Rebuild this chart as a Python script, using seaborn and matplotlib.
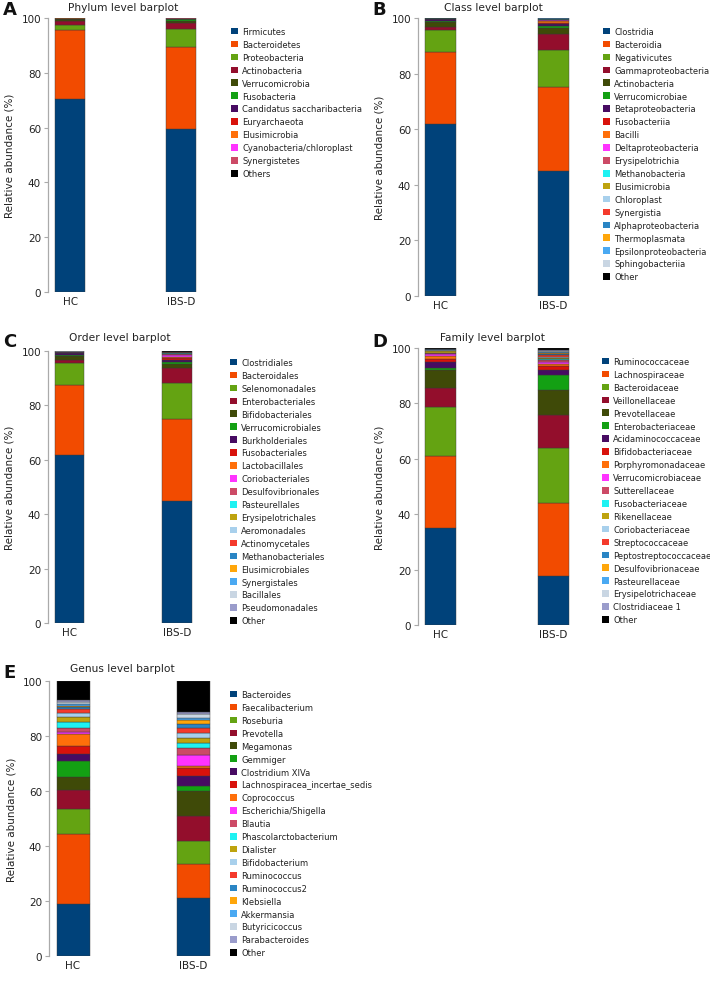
import numpy as np
import pandas as pd
import matplotlib
matplotlib.use("Agg")
import matplotlib.pyplot as plt
import seaborn as sns
from matplotlib.patches import Patch

# ------------------------------------------------------------
# Data (relative abundance, %)
# ------------------------------------------------------------
groups = ["HC", "IBS-D"]

phylum_names = ["Firmicutes", "Bacteroidetes", "Proteobacteria", "Actinobacteria",
                "Verrucomicrobia", "Fusobacteria", "Candidatus saccharibacteria",
                "Euryarchaeota", "Elusimicrobia", "Cyanobacteria/chloroplast",
                "Synergistetes", "Others"]
phylum_hc = [70.5, 25.3, 1.5, 1.6, 0.7, 0.05, 0.05, 0.1, 0.02, 0.03, 0.05, 0.1]
phylum_ibs = [59.6, 29.8, 6.7, 2.2, 0.6, 0.6, 0.1, 0.1, 0.05, 0.05, 0.05, 0.15]

class_names = ["Clostridia", "Bacteroidia", "Negativicutes", "Gammaproteobacteria",
               "Actinobacteria", "Verrucomicrobiae", "Betaproteobacteria", "Fusobacteriia",
               "Bacilli", "Deltaproteobacteria", "Erysipelotrichia", "Methanobacteria",
               "Elusimicrobia", "Chloroplast", "Synergistia", "Alphaproteobacteria",
               "Thermoplasmata", "Epsilonproteobacteria", "Sphingobacteriia", "Other"]
class_hc = [61.9, 25.8, 8.1, 1.0, 1.9, 0.3, 0.5, 0.05, 0.1, 0.05, 0.1, 0.03,
            0.02, 0.02, 0.02, 0.02, 0.01, 0.01, 0.01, 0.06]
class_ibs = [45.1, 30.0, 13.5, 5.8, 2.0, 0.7, 0.7, 0.5, 0.7, 0.2, 0.2, 0.1,
             0.05, 0.05, 0.1, 0.05, 0.05, 0.05, 0.05, 0.1]

order_names = ["Clostridiales", "Bacteroidales", "Selenomonadales", "Enterobacteriales",
               "Bifidobacteriales", "Verrucomicrobiales", "Burkholderiales", "Fusobacteriales",
               "Lactobacillales", "Coriobacteriales", "Desulfovibrionales", "Pasteurellales",
               "Erysipelotrichales", "Aeromonadales", "Actinomycetales", "Methanobacteriales",
               "Elusimicrobiales", "Synergistales", "Bacillales", "Pseudomonadales", "Other"]
order_hc = [61.7, 25.7, 8.3, 0.9, 1.6, 0.3, 0.6, 0.05, 0.1, 0.2, 0.1, 0.05,
            0.1, 0.02, 0.02, 0.03, 0.02, 0.02, 0.02, 0.02, 0.15]
order_ibs = [45.0, 29.9, 13.5, 5.5, 1.2, 0.9, 0.7, 0.6, 0.6, 0.6, 0.3, 0.3,
             0.2, 0.1, 0.1, 0.05, 0.05, 0.05, 0.1, 0.05, 0.2]

family_names = ["Ruminococcaceae", "Lachnospiraceae", "Bacteroidaceae", "Veillonellaceae",
                "Prevotellaceae", "Enterobacteriaceae", "Acidaminococcaceae",
                "Bifidobacteriaceae", "Porphyromonadaceae", "Verrucomicrobiaceae",
                "Sutterellaceae", "Fusobacteriaceae", "Rikenellaceae", "Coriobacteriaceae",
                "Streptococcaceae", "Peptostreptococcaceae", "Desulfovibrionaceae",
                "Pasteurellaceae", "Erysipelotrichaceae", "Clostridiaceae 1", "Other"]
family_hc = [35.1, 25.9, 17.8, 6.6, 6.6, 0.9, 1.9, 1.4, 0.8, 0.7, 0.4, 0.1,
             0.8, 0.2, 0.2, 0.1, 0.1, 0.05, 0.1, 0.05, 0.2]
family_ibs = [17.8, 26.2, 20.0, 11.8, 9.0, 5.4, 1.8, 1.4, 0.7, 0.8, 0.6, 0.6,
              0.4, 0.4, 0.6, 0.4, 0.3, 0.3, 0.3, 0.3, 0.9]

genus_names = ["Bacteroides", "Faecalibacterium", "Roseburia", "Prevotella", "Megamonas",
               "Gemmiger", "Clostridium XIVa", "Lachnospiracea_incertae_sedis",
               "Coprococcus", "Escherichia/Shigella", "Blautia", "Phascolarctobacterium",
               "Dialister", "Bifidobacterium", "Ruminococcus", "Ruminococcus2",
               "Klebsiella", "Akkermansia", "Butyricicoccus", "Parabacteroides", "Other"]
genus_hc = [18.9, 25.3, 9.3, 7.0, 4.6, 5.7, 2.6, 3.0, 4.4, 0.6, 1.6, 2.0,
            1.8, 1.5, 1.6, 0.6, 0.5, 0.6, 0.7, 0.7, 7.0]
genus_ibs = [21.2, 12.1, 8.6, 9.0, 9.1, 1.7, 3.7, 3.0, 0.8, 4.0, 2.6, 1.6,
             1.9, 1.8, 1.8, 1.6, 1.3, 0.9, 1.2, 0.9, 11.2]

base_colors = ["#00427a", "#f24b00", "#64a312", "#930e2c", "#3f4a08", "#13a013",
               "#470b62", "#d8120c", "#ff6f0a", "#ff33ff", "#cc4a66", "#1ef2f2",
               "#bea30e", "#a8d0ec", "#f43a2c", "#2a85c4", "#ffa60a", "#4aa9f2",
               "#c9d6e3", "#9a9ccb"]

# panel settings: (letter, title, names, hc, ibs, axes px [left, top, spacing, bottom],
#                  shrink, title px (x, y), letter px (x, y), legend px (x, top))
panels = [
    ("A", "Phylum level barplot", phylum_names, phylum_hc, phylum_ibs,
     (48, 19, 111, 293), 0.27, (123, 8), (3, 10), (231, 28)),
    ("B", "Class level barplot", class_names, class_hc, class_ibs,
     (418, 19, 113, 297), 0.275, (493, 8), (372, 10), (603, 28)),
    ("C", "Order level barplot", order_names, order_hc, order_ibs,
     (48, 352, 107.5, 624), 0.27, (120, 338), (3, 342), (230, 359)),
    ("D", "Family level barplot", family_names, family_hc, family_ibs,
     (418, 349, 113, 626), 0.28, (493, 338), (372, 342), (602, 358)),
    ("E", "Genus level barplot", genus_names, genus_hc, genus_ibs,
     (49, 682, 120, 957), 0.275, (122, 669), (3, 673), (230, 691)),
]

W, H = 710, 987

sns.set_style("ticks")
plt.rcParams["font.family"] = ["DejaVu Sans"]

fig = plt.figure(figsize=(W / 100, H / 100), dpi=100)

for letter, title, names, hc, ibs, box, shrink, tpos, lpos, legpos in panels:
    left, top, spacing, bottom = box
    width = 1.4 * spacing
    ax = fig.add_axes([left / W, 1 - bottom / H, width / W, (bottom - top) / H])

    colors = base_colors[:len(names) - 1] + ["#000000"]
    pal = dict(zip(names, colors))

    df = pd.DataFrame({
        "group": [groups[0]] * len(names) + [groups[1]] * len(names),
        "taxon": names * 2,
        "value": hc + ibs,
    })

    sns.histplot(data=df, x="group", hue="taxon", weights="value",
                 multiple="stack", hue_order=names[::-1], palette=pal,
                 discrete=True, shrink=shrink, alpha=1, edgecolor="#3a3a3a",
                 linewidth=0.3, legend=False, ax=ax)

    ax.set_xlim(-0.2, 1.2)
    ax.set_ylim(0, 100)
    ax.set_yticks([0, 20, 40, 60, 80, 100])
    ax.set_xticks([0, 1])
    ax.set_xticklabels(groups)
    ax.tick_params(axis="x", length=0, pad=3, labelsize=7.5, colors="#222222")
    ax.tick_params(axis="y", length=3, width=0.8, pad=2, labelsize=7.5,
                   color="#aaaaaa", labelcolor="#222222")
    for s in ["top", "right", "bottom"]:
        ax.spines[s].set_visible(False)
    ax.spines["left"].set_color("#aaaaaa")
    ax.spines["left"].set_linewidth(0.9)
    ax.set_xlabel("")
    ax.set_ylabel("Relative abundance (%)", fontsize=7.5, color="#222222")
    ax.yaxis.set_label_coords(-33 / width, 0.5)

    fig.text(tpos[0] / W, 1 - tpos[1] / H, title, fontsize=7.7,
             ha="center", va="center", color="#222222")
    fig.text(lpos[0] / W, 1 - lpos[1] / H, letter, fontsize=13,
             fontweight="bold", ha="left", va="center", color="#111111")

    handles = [Patch(facecolor=c, edgecolor="none") for c in colors]
    ax.legend(handles, names, loc="upper left",
              bbox_to_anchor=(legpos[0] / W, 1 - legpos[1] / H),
              bbox_transform=fig.transFigure, frameon=False, fontsize=6.0,
              handlelength=0.85, handleheight=0.85, handletextpad=0.5,
              labelspacing=0.47, borderpad=0, borderaxespad=0,
              labelcolor="#222222")

fig.savefig("out.png", dpi=100)
